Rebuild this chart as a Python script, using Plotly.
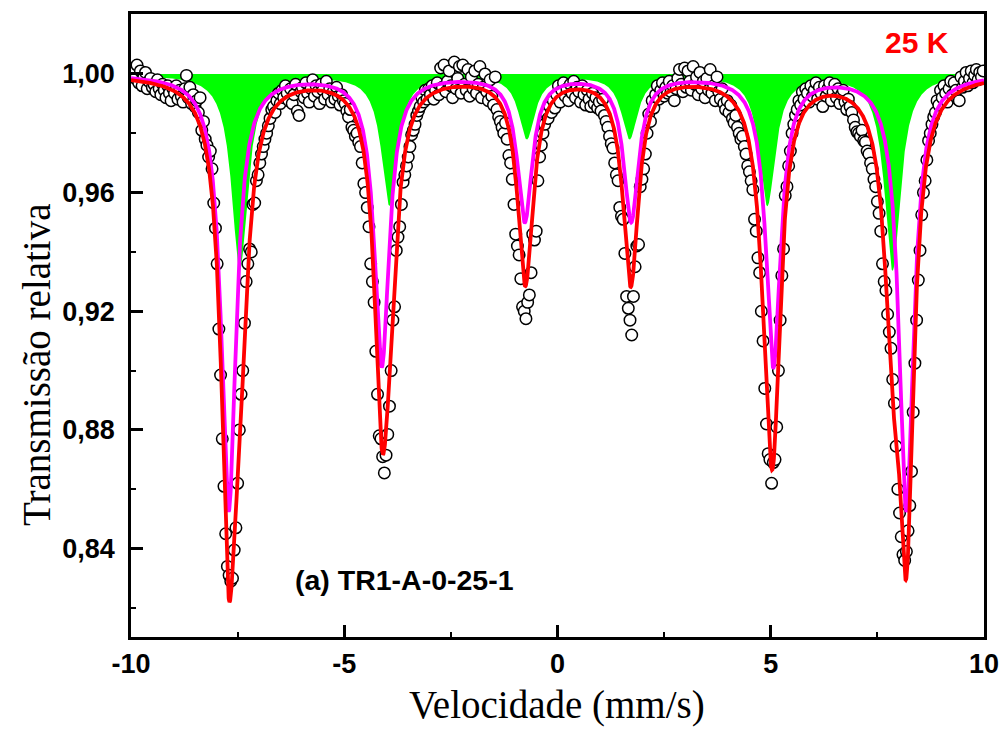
import numpy as np
import plotly.graph_objects as go

# ---------------- measured spectrum (relative transmission per velocity channel) ----------------
vel_first = -9.98   # mm/s, velocity of the first channel
vel_step = 0.04     # mm/s between channels
transmission = [
    # -9.98 .. -9.02
    0.9995, 1.0020, 0.9985, 1.0030, 0.9970, 1.0010, 0.9960, 0.9990, 1.0005, 0.9950,
    0.9975, 0.9985, 0.9955, 0.9965, 0.9940, 0.9980, 0.9950, 0.9930, 0.9965, 0.9945,
    0.9920, 0.9960, 0.9935, 0.9910, 0.9950,
    # -8.98 .. -8.02
    0.9935, 0.9960, 0.9915, 0.9945, 0.9925, 0.9905, 0.9950, 0.9995, 0.9920, 0.9955,
    0.9900, 0.9930, 0.9890, 0.9910, 0.9870, 0.9920, 0.9810, 0.9840, 0.9780, 0.9760,
    0.9720, 0.9740, 0.9680, 0.9565, 0.9480,
    # -7.98 .. -7.02
    0.9360, 0.9140, 0.8985, 0.8770, 0.8610, 0.8450, 0.8340, 0.8310, 0.8290, 0.8300,
    0.8395, 0.8470, 0.8620, 0.8800, 0.8920, 0.9000, 0.9160, 0.9300, 0.9360, 0.9410,
    0.9400, 0.9560, 0.9565, 0.9640, 0.9660,
    # -6.98 .. -6.02
    0.9700, 0.9730, 0.9755, 0.9780, 0.9800, 0.9825, 0.9850, 0.9880, 0.9890, 0.9870,
    0.9910, 0.9935, 0.9900, 0.9945, 0.9920, 0.9960, 0.9935, 0.9910, 0.9950, 0.9900,
    0.9930, 0.9965, 0.9875, 0.9860, 0.9940,
    # -5.98 .. -5.02
    0.9955, 0.9920, 0.9970, 0.9935, 0.9905, 0.9950, 0.9980, 0.9925, 0.9960, 0.9940,
    0.9900, 0.9965, 0.9945, 0.9915, 0.9975, 0.9930, 0.9950, 0.9905, 0.9940, 0.9915,
    0.9955, 0.9925, 0.9895, 0.9930, 0.9910,
    # -4.98 .. -4.02
    0.9900, 0.9875, 0.9855, 0.9880, 0.9820, 0.9810, 0.9790, 0.9800, 0.9770, 0.9755,
    0.9700, 0.9630, 0.9600, 0.9550, 0.9485, 0.9360, 0.9300, 0.9230, 0.9065, 0.8920,
    0.8780, 0.8770, 0.8710, 0.8655, 0.8715,
    # -3.98 .. -3.02
    0.8785, 0.8880, 0.9000, 0.9170, 0.9215, 0.9405, 0.9450, 0.9485, 0.9560, 0.9635,
    0.9660, 0.9690, 0.9720, 0.9755, 0.9795, 0.9810, 0.9830, 0.9860, 0.9875, 0.9890,
    0.9920, 0.9905, 0.9945, 0.9915, 0.9950,
    # -2.98 .. -2.02
    0.9930, 0.9960, 0.9915, 0.9945, 0.9970, 0.9930, 1.0020, 0.9955, 1.0030, 0.9940,
    0.9975, 1.0010, 0.9960, 0.9920, 1.0040, 0.9950, 0.9985, 1.0025, 0.9935, 1.0030,
    0.9965, 0.9945, 1.0015, 0.9925, 0.9990,
    # -1.98 .. -1.02
    0.9950, 1.0010, 0.9935, 0.9965, 1.0025, 0.9920, 0.9955, 1.0000, 0.9940, 0.9910,
    0.9980, 0.9925, 0.9895, 0.9990, 0.9880, 0.9855, 0.9840, 0.9820, 0.9800, 0.9835,
    0.9780, 0.9725, 0.9700, 0.9645, 0.9560,
    # -0.98 .. -0.02
    0.9460, 0.9420, 0.9390, 0.9310, 0.9215, 0.9200, 0.9175, 0.9230, 0.9255, 0.9330,
    0.9460, 0.9440, 0.9470, 0.9640, 0.9720, 0.9760, 0.9800, 0.9830, 0.9865, 0.9850,
    0.9890, 0.9870, 0.9910, 0.9885, 0.9930,
    # 0.02 .. 0.98
    0.9960, 0.9905, 0.9945, 0.9970, 0.9925, 0.9950, 0.9910, 0.9965, 0.9935, 0.9975,
    0.9920, 0.9955, 0.9940, 0.9905, 0.9960, 0.9930, 0.9895, 0.9945, 0.9915, 0.9890,
    0.9935, 0.9900, 0.9920, 0.9885, 0.9905,
    # 1.02 .. 1.98
    0.9875, 0.9915, 0.9860, 0.9840, 0.9820, 0.9790, 0.9765, 0.9750, 0.9700, 0.9660,
    0.9640, 0.9550, 0.9520, 0.9510, 0.9395, 0.9250, 0.9210, 0.9170, 0.9120, 0.9250,
    0.9350, 0.9420, 0.9425, 0.9620, 0.9645,
    # 2.02 .. 2.98
    0.9680, 0.9730, 0.9800, 0.9865, 0.9840, 0.9910, 0.9885, 0.9930, 0.9960, 0.9915,
    0.9945, 0.9970, 0.9925, 0.9955, 0.9935, 0.9975, 0.9940, 0.9960, 0.9910, 0.9950,
    0.9985, 1.0015, 0.9965, 0.9940, 1.0020,
    # 3.02 .. 3.98
    0.9955, 1.0010, 0.9975, 0.9945, 1.0025, 0.9965, 0.9990, 0.9930, 1.0005, 0.9950,
    0.9975, 0.9920, 0.9985, 0.9945, 1.0015, 0.9935, 0.9960, 0.9910, 0.9990, 0.9940,
    0.9915, 0.9950, 0.9900, 0.9880, 0.9910,
    # 4.02 .. 4.98
    0.9870, 0.9895, 0.9850, 0.9835, 0.9860, 0.9820, 0.9800, 0.9780, 0.9790, 0.9755,
    0.9730, 0.9690, 0.9670, 0.9640, 0.9610, 0.9510, 0.9470, 0.9380, 0.9330, 0.9200,
    0.9100, 0.8940, 0.8820, 0.8720, 0.8700,
    # 5.02 .. 5.98
    0.8620, 0.8690, 0.8700, 0.8810, 0.9000, 0.9170, 0.9320, 0.9410, 0.9590, 0.9620,
    0.9690, 0.9740, 0.9800, 0.9830, 0.9860, 0.9880, 0.9910, 0.9895, 0.9940, 0.9915,
    0.9950, 0.9935, 0.9905, 0.9960, 0.9925,
    # 6.02 .. 6.98
    0.9945, 0.9970, 0.9915, 0.9955, 0.9935, 0.9890, 0.9960, 0.9925, 0.9950, 0.9970,
    0.9910, 0.9940, 0.9965, 0.9920, 0.9950, 0.9900, 0.9930, 0.9945, 0.9905, 0.9880,
    0.9915, 0.9890, 0.9870, 0.9845, 0.9820,
    # 7.02 .. 7.98
    0.9805, 0.9800, 0.9790, 0.9810, 0.9775, 0.9770, 0.9740, 0.9730, 0.9700, 0.9680,
    0.9645, 0.9620, 0.9570, 0.9530, 0.9470, 0.9360, 0.9300, 0.9270, 0.9190, 0.9130,
    0.9075, 0.8970, 0.8890, 0.8745, 0.8600,
    # 8.02 .. 8.98
    0.8520, 0.8440, 0.8380, 0.8360, 0.8390, 0.8460, 0.8545, 0.8660, 0.8860, 0.9025,
    0.9170, 0.9305, 0.9405, 0.9525, 0.9600, 0.9640, 0.9710, 0.9775, 0.9800, 0.9830,
    0.9855, 0.9870, 0.9910, 0.9895, 0.9945,
    # 9.02 .. 9.98
    0.9920, 0.9960, 0.9935, 0.9905, 0.9950, 0.9975, 0.9930, 0.9970, 0.9945, 0.9915,
    0.9910, 0.9990, 0.9955, 0.9975, 1.0005, 0.9960, 0.9985, 1.0010, 0.9970, 0.9995,
    1.0015, 0.9980, 1.0005, 0.9990, 1.0010,
]
velocity = vel_first + vel_step * np.arange(len(transmission))

# ---------------- fitted subspectra (Lorentzian sextets) ----------------
mag_pos = [-7.71, -4.12, -0.767, 1.727, 5.06, 8.18]      # magenta sextet line positions (mm/s)
mag_depth = [0.147, 0.098, 0.049, 0.049, 0.098, 0.147]   # line depths
mag_hwhm = 0.21                                          # half width (mm/s)
green_pos = [-7.45, -3.94, -0.72, 1.69, 4.92, 7.855]     # green sextet line positions (mm/s)
green_depth = [0.066, 0.044, 0.0215, 0.0215, 0.044, 0.066]
green_hwhm = 0.23

x_tickvals = [-10, -5, 0, 5, 10]
x_ticktext = ["-10", "-5", "0", "5", "10"]
x_minor = [-7.5, -2.5, 2.5, 7.5]
y_tickvals = [0.84, 0.88, 0.92, 0.96, 1.00]
y_ticktext = ["0,84", "0,88", "0,92", "0,96", "1,00"]
y_minor = [0.82, 0.86, 0.90, 0.94, 0.98, 1.02]


def sextet_absorption(v, pos, depth, hwhm):
    a = np.zeros_like(v)
    for p, d in zip(pos, depth):
        a += d * hwhm ** 2 / ((v - p) ** 2 + hwhm ** 2)
    return a


v = np.linspace(-10, 10, 4001)
abs_mag = sextet_absorption(v, mag_pos, mag_depth, mag_hwhm)
abs_green = sextet_absorption(v, green_pos, green_depth, green_hwhm)
fit_mag = 1 - abs_mag
fit_green = 1 - abs_green
fit_total = 1 - abs_mag - abs_green

fig = go.Figure()
fig.add_trace(go.Scatter(x=v, y=np.ones_like(v), mode="lines", line=dict(width=0, color="#00FF00"),
                         showlegend=False, hoverinfo="skip"))
fig.add_trace(go.Scatter(x=v, y=fit_green, mode="lines", line=dict(width=0, color="#00FF00"),
                         fill="tonexty", fillcolor="#00FF00", showlegend=False))
fig.add_trace(go.Scatter(x=velocity, y=transmission, mode="markers",
                         marker=dict(symbol="circle", size=11.5, color="white",
                                     line=dict(color="black", width=1.5)),
                         showlegend=False))
fig.add_trace(go.Scatter(x=v, y=fit_mag, mode="lines", line=dict(color="#FF00FF", width=3.8),
                         showlegend=False))
fig.add_trace(go.Scatter(x=v, y=fit_total, mode="lines", line=dict(color="#FF0000", width=3.8),
                         showlegend=False))

tickfont = dict(family="Liberation Sans", size=27, color="black", weight="bold")
fig.update_layout(
    width=1001, height=751,
    margin=dict(l=131, r=17, t=14, b=114, autoexpand=False),
    paper_bgcolor="white", plot_bgcolor="white",
    showlegend=False,
    xaxis=dict(range=[-10, 10], showgrid=False, zeroline=False, automargin=False,
               showline=True, linecolor="black", linewidth=2.5, mirror=True,
               ticks="inside", ticklen=12, tickwidth=2.5, tickcolor="black",
               tickvals=x_tickvals, ticktext=x_ticktext, tickfont=tickfont,
               ticklabelstandoff=1, ticklabeloverflow="allow",
               minor=dict(tickvals=x_minor, ticks="inside", ticklen=5, tickwidth=2, tickcolor="black")),
    yaxis=dict(range=[0.8102, 1.0202], showgrid=False, zeroline=False, automargin=False,
               showline=True, linecolor="black", linewidth=2.5, mirror=True,
               ticks="inside", ticklen=12, tickwidth=2.5, tickcolor="black",
               tickvals=y_tickvals, ticktext=y_ticktext, tickfont=tickfont,
               ticklabelstandoff=8, ticklabeloverflow="allow",
               minor=dict(tickvals=y_minor, ticks="inside", ticklen=5, tickwidth=2, tickcolor="black")),
    annotations=[
        dict(text="Velocidade (mm/s)", xref="paper", yref="paper", x=0.4995, y=-0.109,
             xanchor="center", yanchor="middle", showarrow=False,
             font=dict(family="Liberation Serif", size=39, color="black")),
        dict(text="Transmissão relativa", xref="paper", yref="paper", x=-0.11, y=0.437,
             xanchor="center", yanchor="middle", showarrow=False, textangle=-90,
             font=dict(family="Liberation Serif", size=39, color="black")),
        dict(text="25 K", xref="paper", yref="paper", x=0.9215, y=0.955,
             xanchor="center", yanchor="middle", showarrow=False,
             font=dict(family="Liberation Sans", size=30, color="#FF0000", weight="bold")),
        dict(text="(a) TR1-A-0-25-1", xref="paper", yref="paper", x=0.19, y=0.0915,
             xanchor="left", yanchor="middle", showarrow=False,
             font=dict(family="Liberation Sans", size=28.5, color="black", weight="bold")),
    ],
)

fig.write_html("out.html")
